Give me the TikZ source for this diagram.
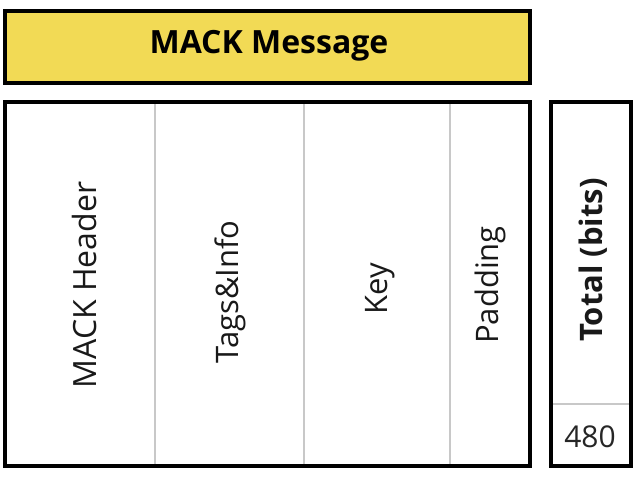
\documentclass[tikz,border=0pt]{standalone}
\usepackage{fontspec}
\setmainfont{Open Sans}
\definecolor{titlefill}{HTML}{F2DA55}
\definecolor{sepgray}{HTML}{C8C8C8}
\begin{document}
\begin{tikzpicture}[x=1pt,y=-1pt,
  frame/.style={draw=black,line width=4pt},
  sepline/.style={draw=sepgray,line width=1.6pt},
  lbl/.style={rotate=90,font=\fontsize{31}{36}\selectfont,text=black!90,inner sep=0pt},
  numlbl/.style={font=\fontsize{30}{36}\selectfont,text=black!85,inner sep=0pt}]
\useasboundingbox (0,0) rectangle (642,482);
% title
\draw[frame,fill=titlefill] (5,11) rectangle (530,83);
\node[font=\bfseries\fontsize{32}{38}\selectfont,inner sep=0pt] (title) at (269,46) {MACK Message};
% main table
\coordinate (c1) at (155,102);
\coordinate (c1b) at (155,466);
\coordinate (c2) at (304,102);
\coordinate (c2b) at (304,466);
\coordinate (c3) at (450,102);
\coordinate (c3b) at (450,466);
\draw[sepline] (c1) -- (c1b);
\draw[sepline] (c2) -- (c2b);
\draw[sepline] (c3) -- (c3b);
\draw[frame] (5,102) rectangle (530,466);
\node[lbl,font=\fontsize{32}{38}\selectfont] (hdr) at (84,285) {MACK Header};
\node[lbl] (tags) at (230,292) {Tags\&Info};
\node[lbl] (key) at (380,289) {Key};
\node[lbl] (pad) at (490,285) {Padding};
% total box
\coordinate (t1) at (551,404);
\coordinate (t2) at (631,404);
\draw[sepline] (t1) -- (t2);
\draw[frame] (551,102) rectangle (631,466);
\node[lbl,font=\bfseries\fontsize{31}{36}\selectfont] (tot) at (593,260) {Total (bits)};
\node[numlbl] (val) at (590,437) {480};
\end{tikzpicture}
\end{document}
